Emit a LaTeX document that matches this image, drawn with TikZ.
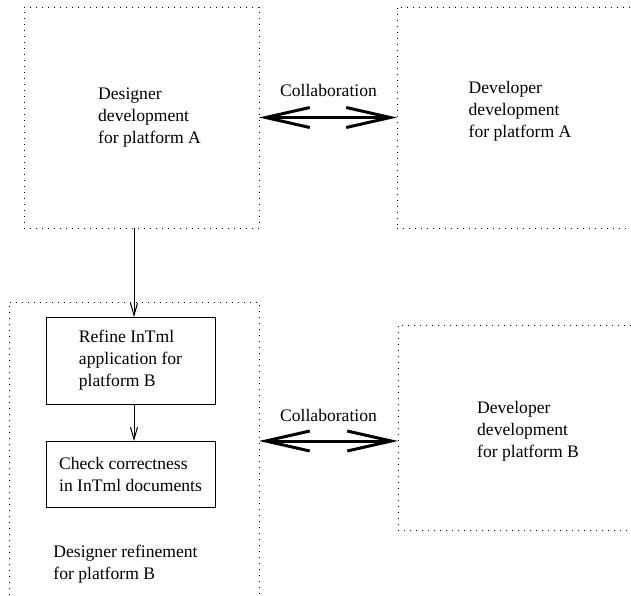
\documentclass[tikz,border=0pt]{standalone}
\usepackage{fontspec}
\setmainfont{Liberation Serif}
\usetikzlibrary{arrows.meta}
\tikzset{
  area/.style={draw,dash pattern=on 0.5pt off 2.5pt,line width=0.5pt,inner sep=0pt,outer sep=0pt},
  taskbox/.style={draw,line width=0.5pt,align=left,inner sep=0pt,outer sep=0pt,minimum width=84.5pt},
  txt/.style={align=left,inner sep=0pt},
  collab/.style={{Straight Barb[length=22pt,width=10pt]}-{Straight Barb[length=22pt,width=10pt]},line width=1.5pt},
  flow/.style={-{Straight Barb[length=6pt,width=3.5pt]},line width=0.5pt}
}
\begin{document}
\begin{tikzpicture}[x=0.5pt,y=-0.5pt,font=\fontsize{8.8pt}{11pt}\selectfont]
			\clip(0,0) rectangle (631,595);
			% platform A
			\node[area,minimum width=117.5pt,minimum height=110.5pt](desA) at(141.5,117.5){};
			\node[area,minimum width=151.5pt,minimum height=110.5pt](devA) at(548.5,117.5){};
			\node[txt](desAtxt) at(149.5,118){Designer\\development\\for platform A};
			\node[txt](devAtxt) at(520,111){Developer\\development\\for platform A};
			\draw[collab](desA)--(devA);
			\node(collA) at(328.5,90){Collaboration};
			% platform B
			\node[area,minimum width=125pt,minimum height=174pt](desB) at(134,476){};
			\node[area,minimum width=151pt,minimum height=102.5pt](devB) at(549,427.5){};
			\node[taskbox,minimum height=43.5pt](refine) at(130.5,360.5){Refine InTml\\application for\\platform B};
			\node[taskbox,minimum height=33pt](check) at(130.5,474){Check correctness\\in InTml documents};
			\node[txt](desBtxt) at(125.5,564){Designer refinement\\for platform B};
			\node[txt](devBtxt) at(528,431){Developer\\development\\for platform B};
			\coordinate(lvlB) at(0,441);
			\draw[collab](lvlB -| desB.east)--(lvlB -| devB.west);
			\node(collB) at(328.5,415){Collaboration};
			% refinement flow
			\coordinate(ax) at(134,0);
			\draw[flow](ax |- desA.south)--(ax |- refine.north);
			\draw[flow](ax |- refine.south)--(ax |- check.north);
			\end{tikzpicture}
\end{document}
